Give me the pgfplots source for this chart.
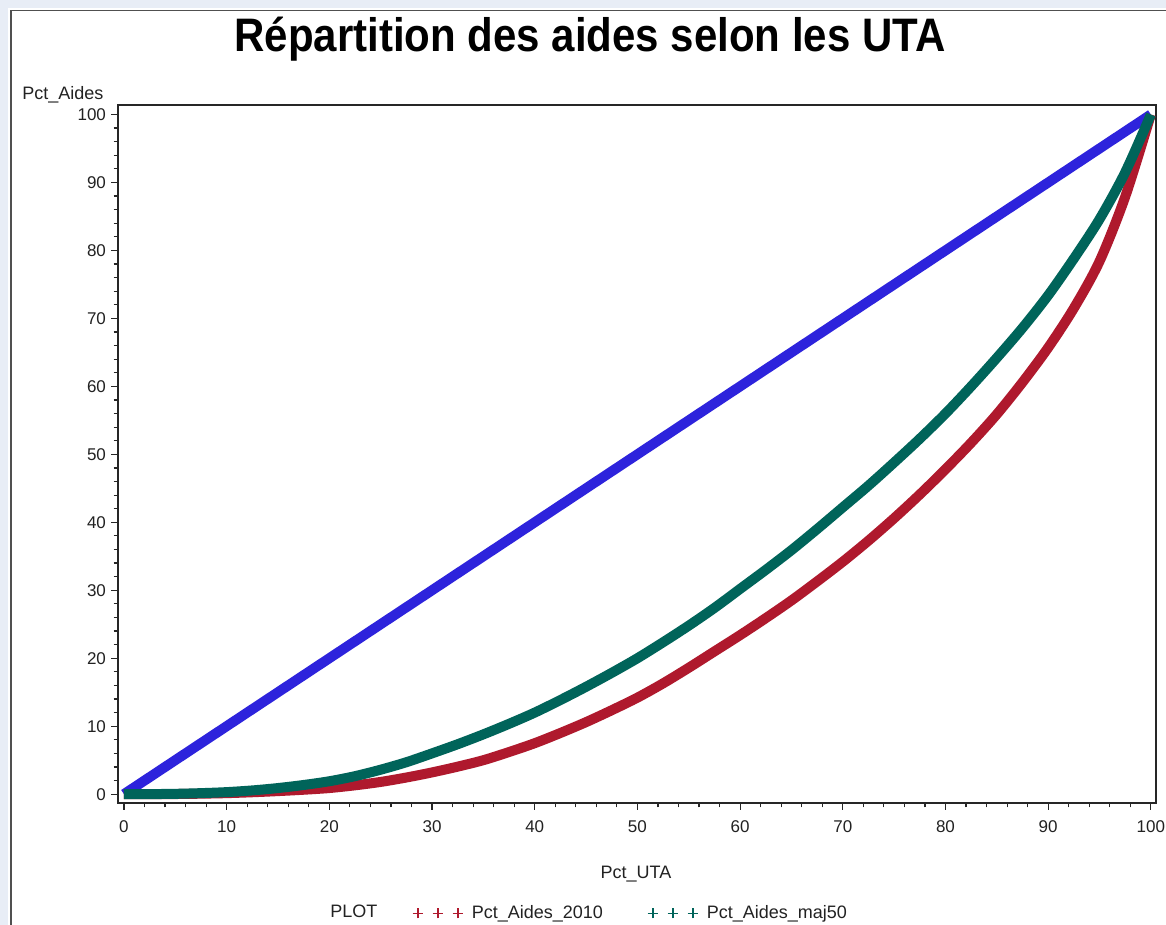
\documentclass[border=0pt]{standalone}
\usepackage{graphicx}
\usepackage{pgfplots}
\pgfplotsset{compat=1.18}
\usepackage{fontspec}
\setmainfont{Liberation Sans}
\definecolor{cblue}{HTML}{2D23DC}
\definecolor{cred}{HTML}{AF192D}
\definecolor{cgreen}{HTML}{00645A}
\definecolor{framebg}{HTML}{E8EDF6}
\definecolor{framedk}{HTML}{505050}
\definecolor{txt}{HTML}{222222}
\pgfplotsset{
  plusleg/.style={legend image code/.code={%
     \draw[draw=#1, line width=0.75pt]
       (-2.6pt,0pt) -- (2.6pt,0pt) (0pt,-2.6pt) -- (0pt,2.6pt)
       (7.4pt,0pt) -- (12.6pt,0pt) (10pt,-2.6pt) -- (10pt,2.6pt)
       (17.4pt,0pt) -- (22.6pt,0pt) (20pt,-2.6pt) -- (20pt,2.6pt);}}
}

\begin{document}
\begin{tikzpicture}
\useasboundingbox (0pt,0pt) rectangle (583pt,462.5pt);
\fill[white] (0pt,0pt) rectangle (583pt,462.5pt);
\fill[framebg] (0pt,458.5pt) rectangle (583pt,462.5pt);
\fill[framebg] (0pt,0pt) rectangle (4pt,462.5pt);
\draw[framedk, line width=0.8pt] (5.5pt,0pt) -- (5.5pt,457.3pt) -- (583pt,457.3pt);

\node[font=\bfseries\fontsize{23.5}{26}\selectfont, anchor=base, inner sep=0pt] at (295pt,436.5pt)
  {\resizebox{355.5pt}{\height}{Répartition des aides selon les UTA}};

\begin{axis}[
  at={(59pt,61pt)}, anchor=south west,
  scale only axis, width=519pt, height=349pt,
  xmin=-0.58, xmax=100.5, ymin=-1.3, ymax=101.4,
  xtick={0,10,...,100}, ytick={0,10,...,100},
  minor tick num=4,
  tick align=outside, tick pos=left,
  major tick length=3.5pt, minor tick length=2.2pt,
  axis line style={line width=0.75pt, black!85},
  every tick/.style={black!85, line width=0.6pt},
  every minor tick/.style={black!85, line width=0.6pt},
  /pgf/number format/assume math mode=true,
  tick label style={font=\fontsize{8.5}{10}\selectfont, text=txt},
  yticklabel style={xshift=1pt},
  xticklabel style={yshift=-2pt},
  legend columns=2,
  legend style={draw=none, fill=none, at={(0.277,-0.158)}, anchor=west,
    font=\fontsize{9}{11}\selectfont,
    /tikz/every odd column/.append style={column sep=2pt},
    /tikz/every even column/.append style={column sep=20pt}},
]
\addplot[cblue, line width=5pt, forget plot] coordinates {(0,0) (100,100)};
\addplot[cred, line width=5pt, smooth, plusleg=cred] coordinates {
(0,0) (2.5,0) (5,0.02) (7.5,0.07) (10,0.15) (12.5,0.28) (15,0.45) (17.5,0.65)
(20,0.9) (22.5,1.3) (25,1.8) (27.5,2.45) (30,3.2) (32.5,4.05) (35,5.0) (37.5,6.2)
(40,7.5) (42.5,9.0) (45,10.6) (47.5,12.35) (50,14.2) (52.5,16.3) (55,18.6) (57.5,21.0)
(60,23.4) (62.5,25.9) (65,28.5) (67.5,31.3) (70,34.2) (72.5,37.3) (75,40.6) (77.5,44.1)
(80,47.8) (82.5,51.7) (85,55.9) (87.5,60.6) (90,65.7) (92.5,71.5) (95,78.4) (97.5,87.9) (100,100)};
\addlegendentry{\color{txt}Pct\_Aides\_2010}
\addplot[cgreen, line width=5pt, smooth, plusleg=cgreen] coordinates {
(0,0) (2.5,0.01) (5,0.05) (7.5,0.15) (10,0.3) (12.5,0.55) (15,0.9) (17.5,1.35)
(20,1.9) (22.5,2.65) (25,3.6) (27.5,4.7) (30,6.0) (32.5,7.35) (35,8.8) (37.5,10.35)
(40,12.0) (42.5,13.85) (45,15.8) (47.5,17.85) (50,20.0) (52.5,22.35) (55,24.8) (57.5,27.4)
(60,30.2) (62.5,33.0) (65,35.9) (67.5,39.0) (70,42.2) (72.5,45.4) (75,48.8) (77.5,52.3)
(80,56.0) (82.5,60.0) (85,64.2) (87.5,68.6) (90,73.4) (92.5,78.8) (95,84.6) (97.5,91.5) (100,100)};
\addlegendentry{\color{txt}Pct\_Aides\_maj50}
\end{axis}

\node[anchor=base west, font=\fontsize{9}{11}\selectfont, text=txt, inner sep=0pt] at (11pt,412.5pt) {Pct\_Aides};
\node[anchor=base, font=\fontsize{9}{11}\selectfont, text=txt, inner sep=0pt] at (318pt,23pt) {Pct\_UTA};
\node[anchor=base west, font=\fontsize{9}{11}\selectfont, text=txt, inner sep=0pt] at (165pt,3.6pt) {PLOT};
\end{tikzpicture}
\end{document}
